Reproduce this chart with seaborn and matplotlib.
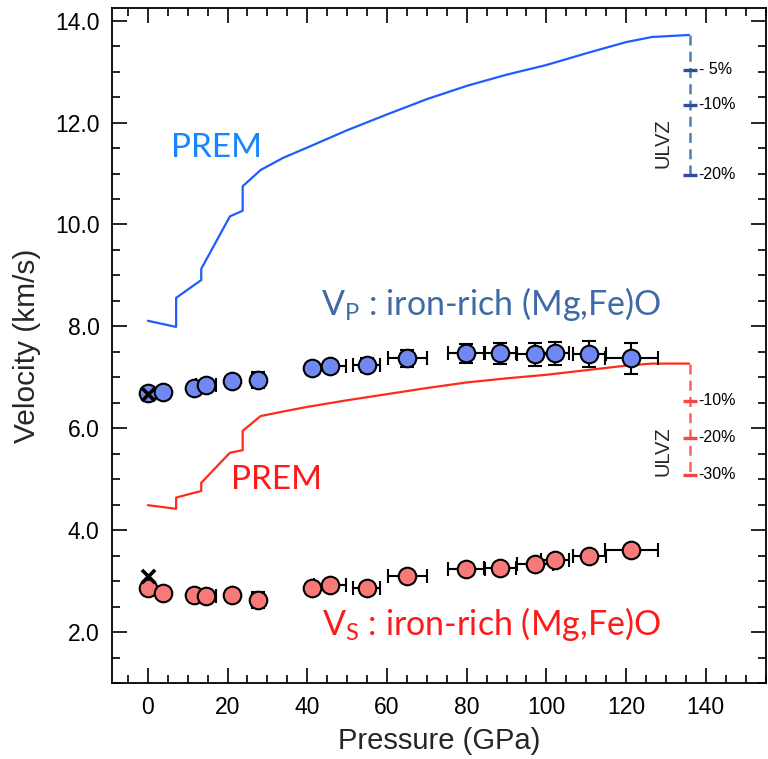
import numpy as np
import pandas as pd
import matplotlib
matplotlib.use("Agg")
import matplotlib.pyplot as plt
import seaborn as sns

# ---------------- data ----------------
# PREM reference profiles (pressure in GPa, velocity in km/s)
prem_p = [0, 7.1, 7.1, 13.4, 13.4, 20.6, 23.8, 23.8, 28.3, 34, 40, 50, 60, 70, 80, 90, 100, 110, 120, 126.5, 135.8]
prem_vp = [8.11, 7.99, 8.56, 8.91, 9.13, 10.16, 10.27, 10.75, 11.07, 11.31, 11.51, 11.85, 12.16, 12.46, 12.72, 12.94, 13.13, 13.36, 13.58, 13.68, 13.72]
prem_vs = [4.49, 4.42, 4.64, 4.77, 4.93, 5.52, 5.57, 5.95, 6.24, 6.33, 6.42, 6.55, 6.67, 6.79, 6.90, 6.98, 7.05, 7.14, 7.23, 7.27, 7.27]

# iron-rich (Mg,Fe)O measurements
pressure = [0, 3.7, 11.5, 14.7, 21.0, 27.7, 41.2, 45.7, 54.9, 65.1, 79.9, 88.3, 97.1, 102.1, 110.8, 121.3]
vp = [6.70, 6.71, 6.80, 6.84, 6.92, 6.95, 7.19, 7.22, 7.24, 7.37, 7.47, 7.47, 7.45, 7.47, 7.46, 7.37]
vs = [2.87, 2.76, 2.73, 2.71, 2.73, 2.63, 2.86, 2.92, 2.86, 3.10, 3.24, 3.25, 3.33, 3.41, 3.49, 3.61]
p_err = [0, 0, 0, 2.5, 0, 1.5, 1.0, 4.0, 3.4, 4.9, 4.6, 4.0, 4.5, 3.5, 4.2, 6.7]
vp_err = [0, 0, 0, 0, 0, 0.15, 0.10, 0.10, 0.13, 0.16, 0.18, 0.20, 0.22, 0.23, 0.25, 0.30]
vs_err = [0, 0, 0, 0, 0, 0.15, 0.05, 0.05, 0.05, 0.05, 0.05, 0.05, 0.05, 0.05, 0.05, 0.05]

# ambient-pressure reference values (crosses)
ref_p = [0, 0]
ref_v = [6.68, 3.10]

# ULVZ reductions relative to PREM at the CMB
ulvz_p = 136.0
ulvz_vp_pct = [5, 10, 20]
ulvz_vs_pct = [10, 20, 30]
cmb_vp = 13.72
cmb_vs = 7.27

x_ticks = [0, 20, 40, 60, 80, 100, 120, 140]
y_ticks = [2.0, 4.0, 6.0, 8.0, 10.0, 12.0, 14.0]

# ---------------- style ----------------
sns.set_theme(style="ticks")
plt.rcParams['font.family'] = ['Liberation Sans', 'DejaVu Sans']
plt.rcParams['mathtext.fontset'] = 'custom'

fig = plt.figure(figsize=(7.68, 7.59), dpi=100)
ax = fig.add_axes([0.1458, 0.1001, 0.851, 0.8894])

blue_line = "#1f5cff"
red_line = "#ff2a1a"
blue_face = "#7088f2"
red_face = "#f87a78"

prem = pd.DataFrame({"P": prem_p, "Vp": prem_vp, "Vs": prem_vs})
sns.lineplot(data=prem, x="P", y="Vp", sort=False, estimator=None,
             color=blue_line, lw=1.6, ax=ax)
sns.lineplot(data=prem, x="P", y="Vs", sort=False, estimator=None,
             color=red_line, lw=1.6, ax=ax)

meas = pd.DataFrame({"P": pressure, "Vp": vp, "Vs": vs})
ax.errorbar(pressure, vp, xerr=p_err, yerr=vp_err, fmt="none", ecolor="black",
            elinewidth=1.5, capsize=5, capthick=1.5, zorder=3)
ax.errorbar(pressure, vs, xerr=p_err, yerr=vs_err, fmt="none", ecolor="black",
            elinewidth=1.5, capsize=5, capthick=1.5, zorder=3)
sns.scatterplot(data=meas, x="P", y="Vp", s=160, color=blue_face, edgecolor="black",
                linewidth=1.5, zorder=4, ax=ax)
sns.scatterplot(data=meas, x="P", y="Vs", s=160, color=red_face, edgecolor="black",
                linewidth=1.5, zorder=4, ax=ax)
ax.scatter(ref_p, ref_v, marker="x", s=90, color="black", linewidths=2.6, zorder=5)

# ULVZ bars
def ulvz(v0, pcts, dash_color, tick_color, labels_y_center):
    vals = [v0 * (1 - p / 100.0) for p in pcts]
    ax.plot([ulvz_p, ulvz_p], [v0, vals[-1]], ls=(0, (4, 2.5)), color=dash_color, lw=1.8, zorder=2)
    for p, v in zip(pcts, vals):
        ax.plot([ulvz_p - 1.8, ulvz_p + 1.8], [v, v], color=tick_color, lw=2.4,
                solid_capstyle="butt", zorder=3)
        lab = f"- {p}%" if p < 10 else f"-{p}%"
        ax.text(ulvz_p + 2.2, v, lab, fontsize=11.5, va="center", ha="left", color="black")
    ax.text(129.3, labels_y_center, "ULVZ", rotation=90, fontsize=14.5, va="center", ha="center")

ulvz(cmb_vp, ulvz_vp_pct, "#4a80b8", "#2f4d9e", 11.6)
ulvz(cmb_vs, ulvz_vs_pct, "#ff6060", "#f24848", 5.55)

# annotations
afont = ['Lato', 'DejaVu Sans']
ax.text(17.2, 11.51, "PREM", color="#1a84ff", fontsize=24, family=afont, ha="center", va="center")
ax.text(32.2, 4.98, "PREM", color="#ff1a1a", fontsize=24, family=afont, ha="center", va="center")
ax.text(43.4, 8.43, r"V$_\mathregular{P}$ : iron-rich (Mg,Fe)O", color="#3f6aa6", fontsize=24.5,
        family=afont, ha="left", va="center")
ax.text(43.7, 2.16, r"V$_\mathregular{S}$ : iron-rich (Mg,Fe)O", color="#ff1a1a", fontsize=24.5,
        family=afont, ha="left", va="center")

# axes
ax.set_xlim(-9, 155)
ax.set_ylim(1.0, 14.25)
ax.set_xticks(x_ticks)
ax.set_yticks(y_ticks)
ax.set_yticklabels([f"{t:.1f}" for t in y_ticks])
ax.xaxis.set_minor_locator(matplotlib.ticker.MultipleLocator(5))
ax.yaxis.set_minor_locator(matplotlib.ticker.MultipleLocator(0.5))
ax.tick_params(which="both", direction="in", top=True, right=True, colors="black", width=1.2)
ax.tick_params(which="major", length=11, labelsize=16.5, pad=9)
ax.tick_params(which="minor", length=5.5)
for s in ax.spines.values():
    s.set_linewidth(1.3)
    s.set_color("black")
ax.set_xlabel("Pressure (GPa)", fontsize=21, labelpad=6)
ax.set_ylabel("Velocity (km/s)", fontsize=21.5, labelpad=10)
ax.grid(False)

fig.savefig("out.png", dpi=100)
